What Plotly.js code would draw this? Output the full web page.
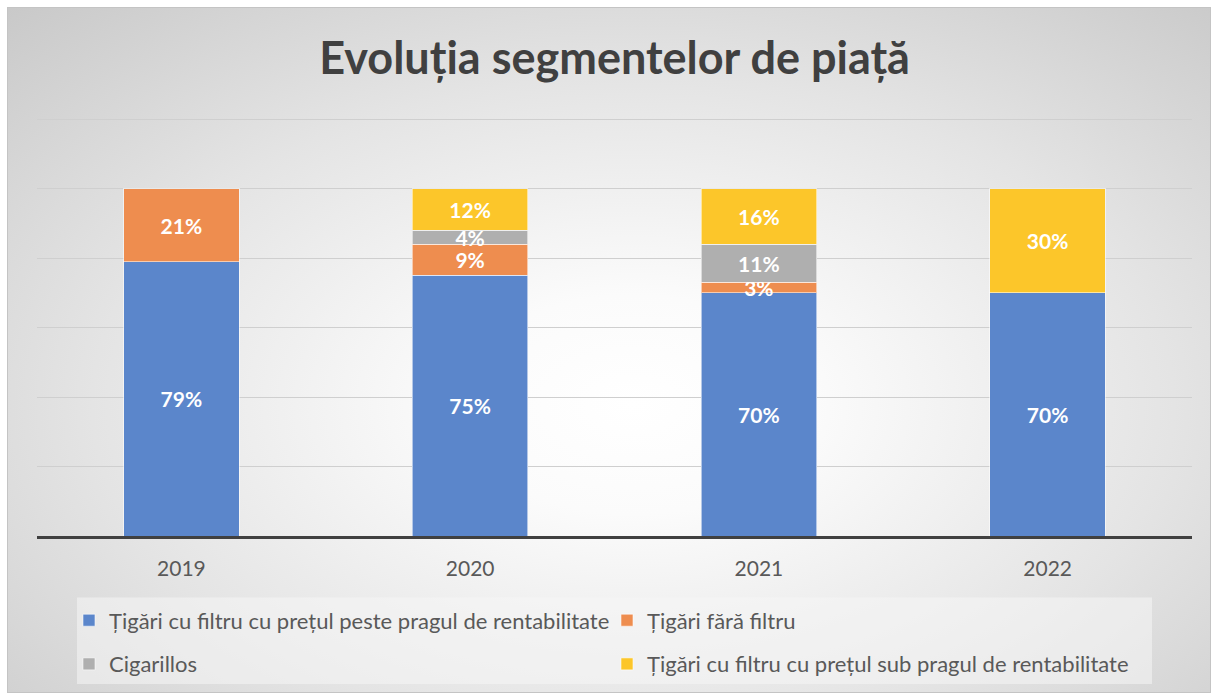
<!DOCTYPE html>
<html>
<head>
<meta charset="utf-8">
<script src="https://cdn.plot.ly/plotly-3.0.1.min.js"></script>
<style>
  html, body { margin: 0; padding: 0; background: #ffffff; width: 1217px; height: 697px; overflow: hidden; }
  #bg { position: absolute; left: 7px; top: 7px; width: 1202px; height: 684px;
        border: 1px solid #c4c4c4;
        background: radial-gradient(ellipse 75% 80% at 52% 58%, #ffffff 0%, #fbfbfb 20%, #e4e4e4 60%, #c9c9c9 100%); }
  #chart { position: absolute; left: 0; top: 0; width: 1217px; height: 697px; }
</style>
</head>
<body>
<div id="bg"></div>
<div id="chart"></div>
<script>
const categories = ["2019", "2020", "2021", "2022"];
const seriesNames = [
  "Țigări cu filtru cu prețul peste pragul de rentabilitate",
  "Țigări fără filtru",
  "Cigarillos",
  "Țigări cu filtru cu prețul sub pragul de rentabilitate"
];
const pesteValues = [79, 75, 70, 70];
const faraFiltruValues = [21, 9, 3, null];
const cigarillosValues = [null, 4, 11, null];
const subValues = [null, 12, 16, 30];
const seriesColors = ["#5B86CB", "#EE8D4F", "#AFAFAF", "#FCC62A"];

const FONT = "Lato, 'Open Sans', sans-serif";
const allValues = [pesteValues, faraFiltruValues, cigarillosValues, subValues];
const legendIds = ["legend", "legend2", "legend3", "legend4"];

const traces = allValues.map((vals, i) => ({
  type: "bar",
  name: seriesNames[i],
  legend: legendIds[i],
  x: categories,
  y: vals,
  text: vals.map(v => (v == null ? "" : v + "%")),
  textposition: "inside",
  insidetextanchor: "middle",
  constraintext: "none",
  textfont: { family: FONT, size: 21, color: "#ffffff", weight: "bold" },
  marker: { color: seriesColors[i], line: { color: "rgba(255,255,255,0.55)", width: 1 } },
  hoverinfo: "name+y"
}));

const legendFont = { family: FONT, size: 22, color: "#595959" };
function legendAt(x, y) {
  return {
    orientation: "h",
    x: x, xanchor: "left",
    y: y, yanchor: "middle",
    bgcolor: "rgba(0,0,0,0)",
    borderwidth: 0,
    font: legendFont,
    itemwidth: 30
  };
}

const layout = {
  width: 1217,
  height: 697,
  barmode: "stack",
  bargap: 0.6,
  paper_bgcolor: "rgba(0,0,0,0)",
  plot_bgcolor: "rgba(0,0,0,0)",
  margin: { l: 37, r: 25, t: 118, b: 158 },
  title: {
    text: "<b>Evoluția segmentelor de piață</b>",
    font: { family: FONT, size: 45, color: "#404040" },
    x: 0.505, xanchor: "center", y: 0.917, yanchor: "middle"
  },
  xaxis: {
    type: "category",
    showgrid: false,
    showline: true,
    linecolor: "#404040",
    linewidth: 3,
    ticks: "",
    tickfont: { family: FONT, size: 21, color: "#595959" },
    ticklabelstandoff: 12,
    zeroline: false
  },
  yaxis: {
    range: [0, 120.3],
    tickvals: [0, 20, 40, 60, 80, 100, 120],
    showticklabels: false,
    showgrid: true,
    gridcolor: "#cfcfcf",
    gridwidth: 1,
    zeroline: false,
    showline: false
  },
  shapes: [{
    type: "rect", xref: "paper", yref: "paper", layer: "below",
    x0: (77 - 37) / 1155, x1: (1152 - 37) / 1155,
    y0: -(688 - 539) / 421, y1: -(601 - 539) / 421,
    fillcolor: "rgba(246,246,246,0.55)", line: { width: 0 }
  }],
  showlegend: true,
  legend: legendAt(0.0277, -(624 - 539) / 421),
  legend2: legendAt(0.4935, -(624 - 539) / 421),
  legend3: legendAt(0.0277, -(668 - 539) / 421),
  legend4: legendAt(0.4935, -(668 - 539) / 421)
};

Plotly.newPlot("chart", traces, layout, { displayModeBar: false, staticPlot: true });
</script>
</body>
</html>
